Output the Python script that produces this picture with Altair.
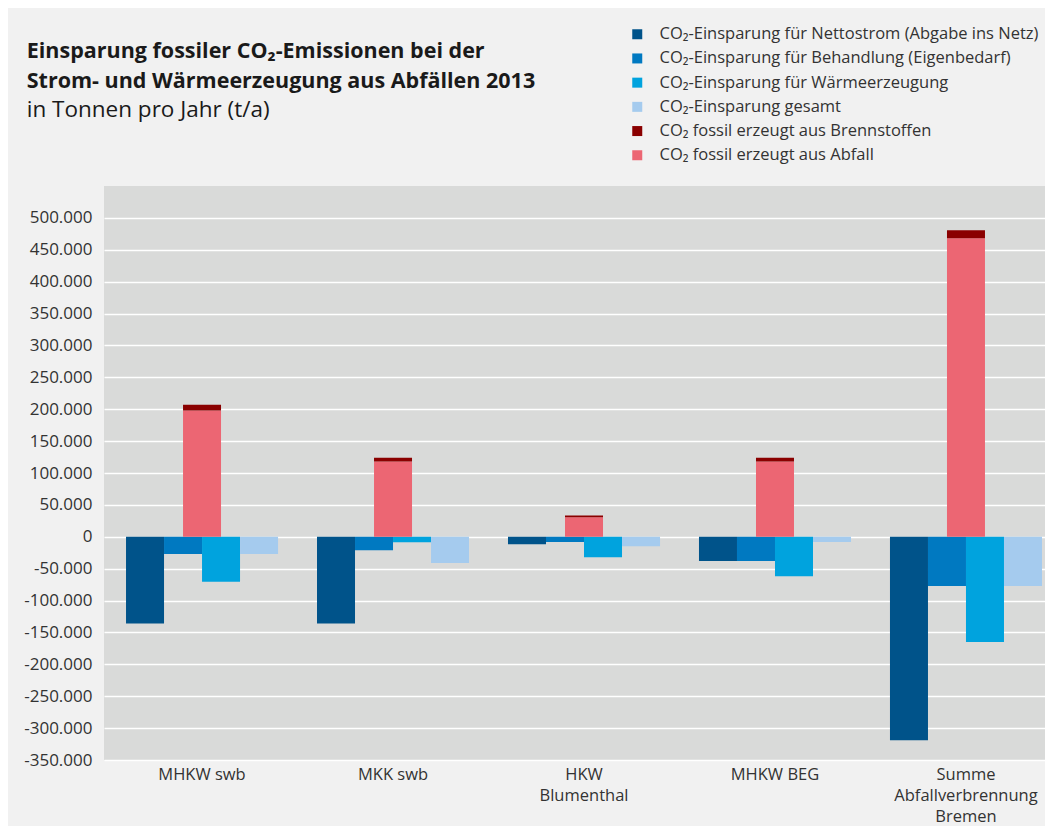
import altair as alt
import pandas as pd

categories = ["MHKW swb", "MKK swb", "HKW\nBlumenthal", "MHKW BEG", "Summe\nAbfallverbrennung\nBremen"]

series_names = [
    "CO₂-Einsparung für Nettostrom (Abgabe ins Netz)",
    "CO₂-Einsparung für Behandlung (Eigenbedarf)",
    "CO₂-Einsparung für Wärmeerzeugung",
    "CO₂-Einsparung gesamt",
    "CO₂ fossil erzeugt aus Brennstoffen",
    "CO₂ fossil erzeugt aus Abfall",
]
series_colors = ["#00538a", "#0079c1", "#00a3de", "#a5cbee", "#8a0000", "#ec6673"]

nettostrom = [-136000, -136000, -11700, -38000, -319000]
behandlung = [-27000, -21000, -8000, -38000, -77000]
waerme = [-70600, -8600, -32000, -62000, -165000]
gesamt = [-27000, -41000, -14800, -8000, -77000]
brennstoffe = [9000, 6000, 3000, 6000, 12500]
abfall = [198000, 118000, 30500, 118000, 468000]

y_ticks = list(range(-350000, 500001, 50000))

blue_rows = []
for s, vals in zip(series_names[:4], [nettostrom, behandlung, waerme, gesamt]):
    for c, v in zip(categories, vals):
        blue_rows.append({"cat": c, "series": s, "value": v})
blue_df = pd.DataFrame(blue_rows)

red_rows = []
for order, (s, vals) in enumerate([(series_names[5], abfall), (series_names[4], brennstoffe)]):
    for c, v in zip(categories, vals):
        red_rows.append({"cat": c, "series": s, "value": v, "ord": order})
red_df = pd.DataFrame(red_rows)

color_scale = alt.Scale(domain=series_names, range=series_colors)
x_enc = alt.X(
    "cat:N",
    sort=categories,
    scale=alt.Scale(paddingInner=0.204, paddingOuter=0.0655, align=0.88),
    axis=alt.Axis(
        title=None,
        labelExpr="split(datum.label, '\\n')",
        labelAngle=0,
        labelFontSize=16.5,
        labelFont="Open Sans",
        labelColor="#333333",
        labelPadding=6,
        labelLineHeight=21,
        labelBaseline="top",
        ticks=False,
        domain=False,
    ),
)
y_scale = alt.Scale(domain=[-350000, 550000], nice=False, zero=False)
y_axis = alt.Axis(
    title=None,
    values=y_ticks,
    labelExpr="(datum.value < 0 ? '-' : '') + replace(format(abs(datum.value), ','), regexp(',', 'g'), '.')",
    labelFontSize=17,
    labelFont="Open Sans",
    labelColor="#333333",
    labelPadding=12,
    ticks=False,
    domain=False,
    grid=True,
    gridColor="#ffffff",
    gridWidth=1.5,
)
legend = alt.Legend(
    title=None,
    orient="none",
    legendX=525,
    legendY=-160,
    symbolType="square",
    symbolSize=100,
    symbolStrokeWidth=0,
    labelFontSize=16.5,
    labelFont="Open Sans",
    labelColor="#333333",
    labelOffset=14,
    rowPadding=7.2,
    labelLimit=500,
)

blue = alt.Chart(blue_df).mark_bar().encode(
    x=x_enc,
    xOffset=alt.XOffset("series:N", sort=series_names[:4], scale=alt.Scale(paddingInner=0, paddingOuter=0)),
    y=alt.Y("value:Q", scale=y_scale, axis=y_axis),
    color=alt.Color("series:N", scale=color_scale, legend=legend),
)

red = alt.Chart(red_df).mark_bar(width=38).encode(
    x=x_enc,
    y=alt.Y("value:Q", scale=y_scale, axis=y_axis, stack="zero"),
    color=alt.Color("series:N", scale=color_scale, legend=legend),
    order=alt.Order("ord:Q"),
)

chart = alt.layer(blue, red).properties(
    width=941,
    height=574,
    background="#f1f1f1",
    autosize=alt.AutoSizeParams(type="none"),
    padding={"left": 96, "top": 178, "right": 0, "bottom": 66},
    title=alt.TitleParams(
        text=["Einsparung fossiler CO₂-Emissionen bei der", "Strom- und Wärmeerzeugung aus Abfällen 2013"],
        subtitle="in Tonnen pro Jahr (t/a)",
        anchor="start",
        frame="bounds",
        dx=3,
        font="Open Sans",
        fontSize=21.5,
        fontWeight="bold",
        color="#1a1a1a",
        lineHeight=30,
        subtitleFont="Open Sans",
        subtitleFontSize=22.5,
        subtitleFontWeight="normal",
        subtitleColor="#1a1a1a",
        subtitlePadding=6.5,
        offset=-95,
    ),
).configure_view(fill="#d9dad9", strokeWidth=0)

chart.save("out.html", embed_options={"renderer": "svg", "actions": False})
